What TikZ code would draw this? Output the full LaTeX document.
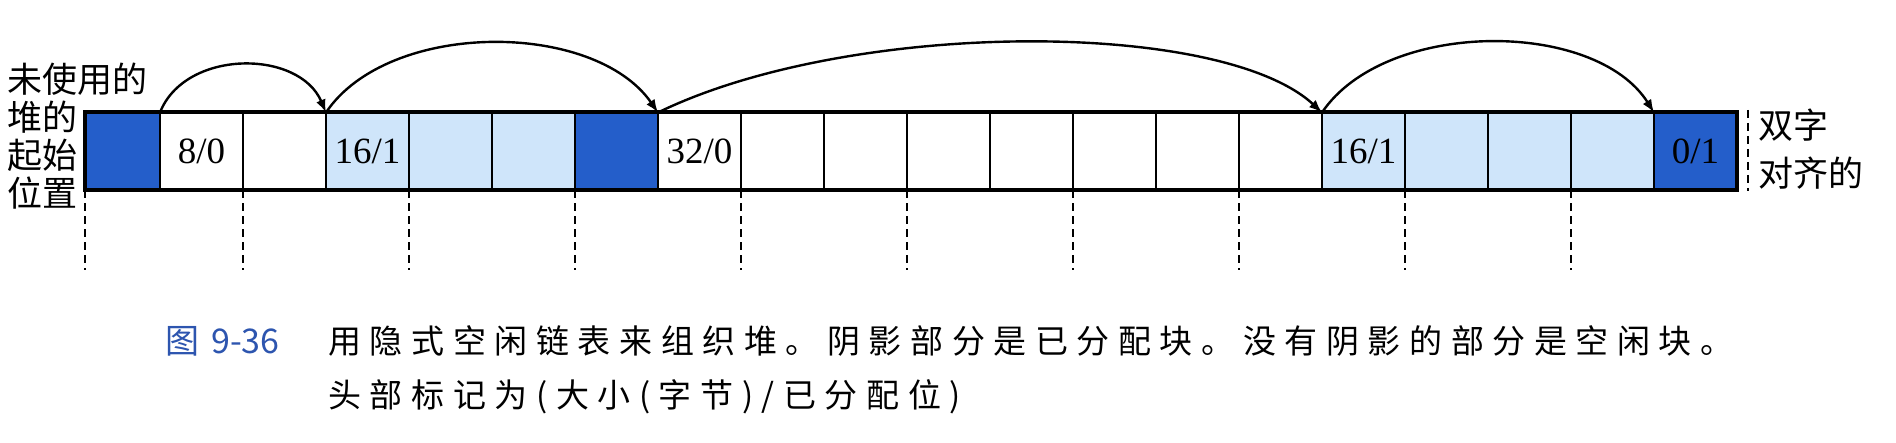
\documentclass[tikz,border=0pt]{standalone}
\usepackage{fontspec}
\setmainfont{Liberation Serif}
\newfontfamily\cjkfont{Noto Sans CJK SC}
\newfontfamily\capfont[LetterSpace=26]{Noto Sans CJK SC}
\usepackage{tikz}
\usetikzlibrary{arrows.meta, positioning}
\definecolor{darkblk}{RGB}{36,94,202}
\definecolor{lightblk}{RGB}{207,229,250}
\definecolor{capblue}{RGB}{45,85,175}
\tikzstyle{cell_node} = [rectangle, draw=black, line width=1pt, minimum width=41.5pt, minimum height=39pt, inner sep=0pt, outer sep=0pt]
\tikzstyle{size_label} = [font=\fontsize{18.5pt}{20pt}\selectfont, inner sep=0pt]
\tikzstyle{link_arrow} = [line width=1.2pt, -{Latex[length=6.5pt, width=5pt]}]
\tikzstyle{guide_line} = [line width=1pt, dash pattern=on 4pt off 2.5pt]
\tikzstyle{side_label} = [font=\cjkfont\fontsize{17.5pt}{19pt}\selectfont, align=left, inner sep=0pt]
\tikzstyle{caption_text} = [font=\capfont\fontsize{16.5pt}{27.5pt}\selectfont, inner sep=0pt]

\begin{document}
\begin{tikzpicture}[x=0.5pt, y=-0.5pt]
    \useasboundingbox (0,0) rectangle (1896,443);
    \fill[white] (0,0) rectangle (1896,443);

    % heap words
    \node (c0) [cell_node, fill=darkblk, minimum width=37.5pt] at (122.5,151.5) {};
    \foreach \k/\col [remember=\k as \prev (initially 0)] in {1/white, 2/white, 3/lightblk, 4/lightblk, 5/lightblk, 6/darkblk, 7/white, 8/white, 9/white, 10/white, 11/white, 12/white, 13/white, 14/white, 15/lightblk, 16/lightblk, 17/lightblk, 18/lightblk, 19/darkblk}
        \node (c\k) [cell_node, fill=\col, right=0pt of c\prev] {};
    \draw [line width=2pt] (c0.north west) rectangle (c19.south east);

    % block headers
    \node (h1) [size_label] at (c1) {8/0};
    \node (h3) [size_label] at (c3) {16/1};
    \node (h7) [size_label] at (c7) {32/0};
    \node (h15) [size_label] at (c15) {16/1};
    \node (h19) [size_label] at (c19) {0/1};

    % double-word boundaries
    \coordinate (guide_end) at (0,270);
    \foreach \k in {0,2,...,18}
        \draw [guide_line] (c\k.south west) -- (c\k.south west |- guide_end);
    \coordinate (align_top) at (1748,110);
    \coordinate (align_bot) at (1748,191);
    \draw [guide_line] (align_top) -- (align_bot);

    % implicit links
    \draw [link_arrow] (c1.north west) .. controls (185,49) and (299,49) .. (c3.north west);
    \draw [link_arrow] (c3.north west) .. controls (388,20) and (594,20) .. (c7.north west);
    \draw [link_arrow] (c7.north west) .. controls (850,19) and (1221,19) .. (c15.north west);
    \draw [link_arrow] (c15.north west) .. controls (1385,19) and (1595,19) .. (c19.north west);

    \node (heap_start) [side_label, anchor=north west] at (7,63) {未使用的\\堆的\\起始\\位置};
    \node (dword_align) [side_label, anchor=north west, font=\cjkfont\fontsize{17.5pt}{24pt}\selectfont] at (1758,108) {双字\\对齐的};

    % caption
    \node (cap_line1) [caption_text, anchor=base west] at (328,353) {用隐式空闲链表来组织堆。阴影部分是已分配块。没有阴影的部分是空闲块。};
    \node (cap_line2) [caption_text, anchor=base west] at (328,408) {头部标记为(大小(字节)/已分配位)};
    \node (fig_num) [caption_text, font=\cjkfont\fontsize{17pt}{20pt}\selectfont, text=capblue, base left=24pt of cap_line1] {图\hspace{6pt}9-36};
\end{tikzpicture}
\end{document}
